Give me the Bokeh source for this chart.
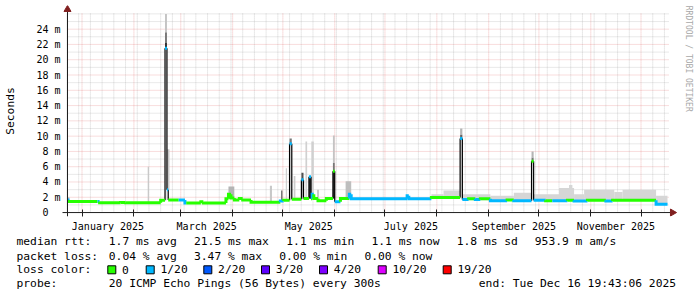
import math
import pandas as pd
from bokeh.plotting import figure
from bokeh.layouts import column
from bokeh.models import FixedTicker, DatetimeTickFormatter, Range1d
from bokeh.core.properties import value
from bokeh.embed import file_html
from bokeh.resources import INLINE

# ---------------- data ----------------
start_time = "2024-12-23 07:43:06"
end_time = "2025-12-16 19:43:06"

loss_labels = ["0", "1/20", "2/20", "3/20", "4/20", "10/20", "19/20"]
loss_colors = ["#26ff00", "#00b8ff", "#0059ff", "#5e00ff", "#7e00ff", "#dd00ff", "#ff0000"]

# median rtt (ms) as steps: segment i spans med_t[i] .. med_t[i+1]
med_t = [
    "2024-12-23 08:00", "2024-12-24 12:00", "2025-01-10 06:00", "2025-01-11 12:00",
    "2025-01-24 00:00", "2025-01-27 00:00", "2025-02-17 00:00", "2025-02-19 14:00",
    "2025-02-20 18:00", "2025-02-21 12:00", "2025-02-27 18:00", "2025-03-03 12:00",
    "2025-03-04 06:00", "2025-03-13 00:00", "2025-03-14 12:00", "2025-03-28 00:00",
    "2025-03-29 12:00", "2025-03-31 00:00", "2025-04-02 00:00", "2025-04-05 00:00",
    "2025-04-07 00:00", "2025-04-12 00:00", "2025-04-29 12:00", "2025-05-01 12:00",
    "2025-05-05 00:00", "2025-05-06 08:00", "2025-05-12 02:00", "2025-05-13 08:00",
    "2025-05-16 14:00", "2025-05-17 20:00", "2025-05-18 12:00", "2025-05-19 12:00",
    "2025-05-22 00:00", "2025-05-27 00:00", "2025-05-30 22:00", "2025-06-01 00:00",
    "2025-06-04 10:00", "2025-06-09 18:00", "2025-06-10 20:00", "2025-07-14 06:00",
    "2025-07-15 06:00", "2025-07-28 18:00", "2025-08-14 22:00", "2025-08-16 06:00",
    "2025-08-20 00:00", "2025-08-24 00:00", "2025-08-27 00:00", "2025-09-02 00:00",
    "2025-09-12 00:00", "2025-09-16 00:00", "2025-09-26 14:00", "2025-09-27 20:00",
    "2025-10-05 00:00", "2025-10-09 00:00", "2025-10-18 00:00", "2025-10-22 00:00",
    "2025-10-30 00:00", "2025-11-10 00:00", "2025-11-14 00:00", "2025-12-10 00:00",
    "2025-12-16 19:43",
]
med_ms = [
    1.65, 1.45, 1.45, 1.28, 1.33, 1.28, 1.60, 21.5,
    3.0, 1.65, 1.65, 1.25, 1.25, 1.40, 1.25, 1.80,
    2.40, 1.90, 1.65, 1.85, 1.65, 1.35, 1.50, 1.60,
    9.0, 1.75, 4.3, 1.85, 4.7, 1.80, 2.40, 1.85,
    1.55, 1.85, 5.4, 1.40, 1.85, 2.40, 1.80, 2.20,
    1.80, 1.97, 9.7, 1.70, 1.80, 1.70, 1.80, 1.55,
    1.65, 1.55, 6.7, 1.60, 1.55, 1.55, 1.60, 1.50,
    1.60, 1.50, 1.60, 1.10,
]
med_loss = [
    1, 0, 1, 0, 0, 0, 0, 1,
    1, 0, 1, 1, 0, 0, 0, 0,
    0, 0, 0, 0, 0, 0, 1, 0,
    1, 0, 1, 0, 1, 0, 1, 0,
    0, 0, 0, 1, 0, 1, 1, 1,
    1, 0, 1, 1, 0, 1, 0, 1,
    0, 1, 0, 1, 0, 1, 0, 1,
    0, 1, 0, 1,
]

# smoke (spread of the 20 pings): start, end, low ms, high ms, density
smoke = [
    ("2024-12-23 08:00", "2024-12-24 12:00", 1.40, 2.00, 0.25),
    ("2025-02-09 06:00", "2025-02-10 00:00", 1.30, 6.00, 0.20),
    ("2025-02-19 14:00", "2025-02-20 18:00", 1.60, 21.5, 0.06),
    ("2025-02-19 14:00", "2025-02-20 18:00", 21.5, 22.2, 0.95),
    ("2025-02-19 14:00", "2025-02-20 18:00", 22.2, 23.6, 0.60),
    ("2025-02-19 14:00", "2025-02-20 18:00", 23.6, 26.0, 0.22),
    ("2025-02-20 18:00", "2025-02-22 06:00", 3.00, 8.30, 0.20),
    ("2025-03-29 12:00", "2025-04-02 00:00", 1.80, 3.40, 0.30),
    ("2025-04-23 06:00", "2025-04-24 12:00", 1.35, 3.50, 0.20),
    ("2025-04-30 00:00", "2025-04-30 18:00", 1.50, 2.90, 0.75),
    ("2025-05-02 18:00", "2025-05-03 12:00", 1.60, 5.80, 0.16),
    ("2025-05-05 00:00", "2025-05-06 08:00", 1.60, 9.00, 0.06),
    ("2025-05-05 00:00", "2025-05-06 08:00", 9.00, 9.70, 0.60),
    ("2025-05-07 12:00", "2025-05-08 12:00", 1.75, 4.80, 0.18),
    ("2025-05-12 02:00", "2025-05-13 08:00", 1.75, 4.30, 0.30),
    ("2025-05-12 02:00", "2025-05-13 08:00", 4.30, 5.20, 0.80),
    ("2025-05-14 12:00", "2025-05-15 12:00", 1.85, 9.30, 0.16),
    ("2025-05-16 14:00", "2025-05-17 20:00", 1.85, 4.70, 0.90),
    ("2025-05-18 00:00", "2025-05-19 12:00", 1.80, 9.30, 0.16),
    ("2025-05-21 12:00", "2025-05-22 12:00", 1.85, 3.00, 0.25),
    ("2025-05-30 22:00", "2025-06-01 00:00", 1.85, 5.40, 0.90),
    ("2025-05-30 22:00", "2025-06-01 00:00", 5.40, 6.50, 0.60),
    ("2025-05-30 22:00", "2025-06-01 00:00", 6.50, 10.1, 0.22),
    ("2025-06-07 12:00", "2025-06-10 20:00", 1.85, 4.10, 0.25),
    ("2025-07-28 18:00", "2025-08-05 00:00", 1.90, 2.40, 0.13),
    ("2025-08-05 00:00", "2025-08-14 22:00", 1.90, 2.90, 0.13),
    ("2025-08-14 22:00", "2025-08-16 06:00", 1.97, 9.70, 0.06),
    ("2025-08-14 22:00", "2025-08-16 06:00", 9.70, 10.2, 0.70),
    ("2025-08-14 22:00", "2025-08-16 06:00", 10.2, 11.0, 0.30),
    ("2025-08-16 06:00", "2025-09-02 00:00", 1.60, 2.40, 0.13),
    ("2025-09-02 00:00", "2025-09-16 00:00", 1.50, 2.20, 0.13),
    ("2025-09-16 00:00", "2025-09-26 14:00", 1.50, 2.60, 0.13),
    ("2025-09-26 14:00", "2025-09-27 20:00", 1.55, 6.70, 0.06),
    ("2025-09-26 14:00", "2025-09-27 20:00", 6.70, 7.20, 0.60),
    ("2025-09-26 14:00", "2025-09-27 20:00", 7.20, 8.00, 0.30),
    ("2025-09-27 20:00", "2025-10-13 00:00", 1.50, 2.40, 0.13),
    ("2025-10-13 00:00", "2025-10-22 00:00", 1.50, 3.20, 0.13),
    ("2025-10-19 00:00", "2025-10-21 00:00", 3.20, 3.60, 0.13),
    ("2025-10-22 00:00", "2025-10-28 00:00", 1.50, 2.40, 0.13),
    ("2025-10-28 00:00", "2025-11-15 00:00", 1.50, 3.00, 0.13),
    ("2025-11-15 00:00", "2025-11-20 00:00", 1.50, 2.70, 0.13),
    ("2025-11-20 00:00", "2025-12-10 00:00", 1.50, 3.00, 0.13),
    ("2025-12-10 00:00", "2025-12-16 19:43", 1.00, 2.20, 0.13),
]

y_ticks = [0, 2, 4, 6, 8, 10, 12, 14, 16, 18, 20, 22, 24]
y_tick_labels = ["0\u00a0\u00a0", "2 m", "4 m", "6 m", "8 m", "10 m", "12 m", "14 m",
                 "16 m", "18 m", "20 m", "22 m", "24 m"]
y_minor = [1, 3, 5, 7, 9, 11, 13, 15, 17, 19, 21, 23, 25, 26]

x_label_dates = ["2025-01-16 12:00", "2025-03-16 12:00", "2025-05-16 12:00",
                 "2025-07-16 12:00", "2025-09-16 00:00", "2025-11-16 00:00"]

rtt_stats = ["1.7 ms avg", "21.5 ms max", "1.1 ms min", "1.1 ms now", "1.8 ms sd", "953.9 m am/s"]
loss_stats = ["0.04 % avg", "3.47 % max", "0.00 % min", "0.00 % now"]
probe_text = "20 ICMP Echo Pings (56 Bytes) every 300s"
end_text = "end: Tue Dec 16 19:43:06 2025"


def ms(s):
    return pd.Timestamp(s).value / 1e6


def shade(d):
    g = int(round(240 - 200 * d))
    return "#%02x%02x%02x" % (g, g, g)


# ---------------- geometry (canvas pixels) ----------------
MONO = "DejaVu Sans Mono"
CH = 234                       # chart canvas height
DATA_L, DATA_R = 67, 667       # data area (start .. end)
FR_L, FR_R, FR_T, FR_B = 60, 697, 5, 219
ZERO_Y = 215
PPM = 7.75                     # pixels per ms
t0, t1 = ms(start_time), ms(end_time)
PX_T = (t1 - t0) / (DATA_R - DATA_L)   # ms of time per pixel


def dx(px):
    return px * PX_T


def dy(px):
    return px / PPM


p = figure(width=697, height=CH, x_axis_type="datetime",
           x_range=Range1d(t0 - dx(DATA_L - FR_L), t1 + dx(FR_R - DATA_R)),
           y_range=Range1d(-dy(FR_B - ZERO_Y), dy(ZERO_Y - FR_T)),
           output_backend="svg", toolbar_location=None,
           min_border_left=FR_L, min_border_right=697 - FR_R,
           min_border_top=FR_T, min_border_bottom=CH - FR_B)
p.outline_line_color = None
p.background_fill_color = "white"
p.border_fill_color = "white"
p.grid.visible = False

month_starts = list(pd.date_range("2025-01-01", "2025-12-01", freq="MS"))
week_starts = [w for w in pd.date_range("2024-12-23", "2025-12-15", freq="W-MON")
               if w not in set(month_starts)]

# axes (labels only; lines drawn below so they can reach the arrows)
xa = p.xaxis[0]
xa.ticker = FixedTicker(ticks=[ms(d) for d in x_label_dates],
                        minor_ticks=[ms(d) for d in month_starts])
fmt = "%B %Y"
xa.formatter = DatetimeTickFormatter(milliseconds=fmt, seconds=fmt, minsec=fmt, minutes=fmt,
                                     hourmin=fmt, hours=fmt, days=fmt, months=fmt, years=fmt)
xa.axis_line_color = None
xa.major_tick_line_color = None
xa.minor_tick_in = FR_B - ZERO_Y + 3
xa.minor_tick_out = 0
xa.minor_tick_line_color = "#1f1f1f"
xa.major_label_text_font = MONO
xa.major_label_text_font_size = "10px"
xa.major_label_text_color = "black"
xa.major_label_standoff = -2

ya = p.yaxis[0]
ya.ticker = FixedTicker(ticks=y_ticks)
ya.major_label_overrides = {t: s for t, s in zip(y_ticks, y_tick_labels)}
ya.axis_line_color = None
ya.major_tick_line_color = None
ya.minor_tick_line_color = None
ya.major_tick_out = 0
ya.major_tick_in = 0
ya.major_label_text_font = MONO
ya.major_label_text_font_size = "10px"
ya.major_label_text_color = "black"
ya.major_label_standoff = 0
ya.axis_label = "Seconds"
ya.axis_label_text_font = MONO
ya.axis_label_text_font_size = "11.3px"
ya.axis_label_text_font_style = "normal"
ya.axis_label_text_color = "black"
ya.axis_label_standoff = 16

# grid (dotted), limited to the data area like rrdtool
top_val = dy(ZERO_Y - 13)
gx_end = t1 + dx(2)
GA = 0.38
p.segment(x0=[ms(w) for w in week_starts], x1=[ms(w) for w in week_starts],
          y0=0, y1=top_val, line_color="#8f8f8f", line_alpha=GA, line_dash="1 1", line_width=1)
p.segment(x0=t0, x1=gx_end, y0=y_minor, y1=y_minor,
          line_color="#8f8f8f", line_alpha=GA, line_dash="1 1", line_width=1)
p.segment(x0=[ms(m) for m in month_starts], x1=[ms(m) for m in month_starts],
          y0=0, y1=top_val, line_color="#de4f4f", line_alpha=GA, line_dash="1 1", line_width=1)
p.segment(x0=t0, x1=gx_end, y0=y_ticks[1:], y1=y_ticks[1:],
          line_color="#de4f4f", line_alpha=GA, line_dash="1 1", line_width=1)

# smoke
p.quad(left=[ms(s[0]) for s in smoke], right=[ms(s[1]) for s in smoke],
       bottom=[s[2] for s in smoke], top=[s[3] for s in smoke],
       fill_color=[shade(s[4]) for s in smoke], line_color=None)

# median line coloured by loss, black edges at large jumps
t = [ms(s) for s in med_t]
xs, ys, cols = [], [], []
ex, ey0, ey1 = [], [], []
for i, v in enumerate(med_ms):
    prev = med_ms[i - 1] if i > 0 else v
    if abs(v - prev) <= 1.0:
        xs.append([t[i], t[i], t[i + 1]])
        ys.append([prev, v, v])
    else:
        xs.append([t[i], t[i + 1]])
        ys.append([v, v])
        ex.append(t[i])
        ey0.append(prev)
        ey1.append(v)
    cols.append(loss_colors[med_loss[i]])

p.segment(x0=ex, y0=ey0, x1=ex, y1=ey1, line_color="black", line_width=1.2)
p.multi_line(xs=xs, ys=ys, line_color=cols, line_width=3, line_join="miter", line_cap="butt")

# axis lines and arrows
AXC, ARROW = "#1f1f1f", "#801f1f"
p.segment(x0=[t0 - dx(5)], x1=[t1 + dx(3)], y0=[0], y1=[0], line_color=AXC, line_width=1)
p.segment(x0=[t0], x1=[t0], y0=[-dy(4)], y1=[dy(ZERO_Y - 9)], line_color=AXC, line_width=1)
p.scatter(x=[t0], y=[dy(ZERO_Y - 9)], marker="triangle", size=7,
          fill_color=ARROW, line_color=ARROW)
p.scatter(x=[t1 + dx(5)], y=[0], marker="triangle", size=7, angle=-math.pi / 2,
          fill_color=ARROW, line_color=ARROW)

# watermark
p.text(x=[t1 + dx(688 - DATA_R)], y=[dy(ZERO_Y - 59)], text=["RRDTOOL / TOBI OETIKER"],
       angle=-math.pi / 2, text_align="center", text_baseline="middle",
       text_font=value(MONO), text_font_size=value("8px"), text_color="#a8a8a8")

# ---------------- legend block ----------------
LH = 297 - CH
leg = figure(width=697, height=LH, x_range=Range1d(0, 697), y_range=Range1d(LH, 0),
             x_axis_location=None, y_axis_location=None, min_border=0,
             output_backend="svg", toolbar_location=None)
leg.outline_line_color = None
leg.grid.visible = False
leg.background_fill_color = "white"
leg.border_fill_color = "white"

# keep the two canvases independent (no frame alignment between them)
for fig in (p, leg):
    try:
        fig.frame_align = False
    except Exception:
        pass

PITCH, X0 = 7.1, 16
rows_y = [r - CH for r in (240.7, 255.7, 269.3, 283.3)]
tx, ty, tt = [], [], []


def put(x, y, s):
    tx.append(x)
    ty.append(y)
    tt.append(s)


put(X0, rows_y[0], "median rtt:")
for c, s in zip([13, 25, 38, 50, 62, 73], rtt_stats):
    put(X0 + c * PITCH, rows_y[0], s)
put(X0, rows_y[1], "packet loss:")
for c, s in zip([13, 25, 37, 49], loss_stats):
    put(X0 + c * PITCH, rows_y[1], s)
put(X0, rows_y[2], "loss color:")
box_left = [107.3, 145.7, 203.3, 261.0, 319.0, 377.7, 442.7]
for bx, s in zip(box_left, loss_labels):
    put(bx + 14.3, rows_y[2], s)
put(X0, rows_y[3], "probe:")
put(X0 + 13 * PITCH, rows_y[3], probe_text)
put(478.3, rows_y[3], end_text)

leg.text(x=tx, y=ty, text=tt, text_align="left", text_baseline="middle",
         text_font=value(MONO), text_font_size=value("11.3px"), text_color="black")
leg.rect(x=[b + 4 for b in box_left], y=rows_y[2], width=8, height=8,
         fill_color=loss_colors, line_color="black", line_width=1)

layout = column(p, leg, spacing=0)
open("out.html", "w").write(file_html(layout, INLINE))
